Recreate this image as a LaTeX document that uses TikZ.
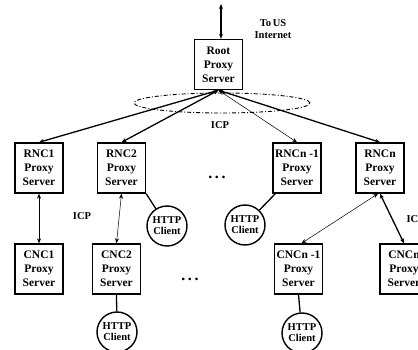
\documentclass[tikz,border=0pt]{standalone}
\usepackage{fontspec}
\setmainfont{Liberation Serif}
\usepackage{tikz}
\usetikzlibrary{arrows.meta}
\usetikzlibrary{decorations.markings}

\tikzset{
  proxybox/.style={draw, line width=1.4pt, minimum width=48pt, minimum height=50pt,
    inner sep=2pt, align=center, font=\fontsize{11.5}{14}\selectfont\bfseries},
  client/.style={draw, circle, line width=1.4pt, minimum size=40pt, inner sep=0pt,
    align=center, font=\fontsize{10.5}{11}\selectfont\bfseries},
  lbl/.style={font=\fontsize{10.5}{12}\selectfont\bfseries, align=center},
  thickarr/.style={line width=1.3pt, {Stealth[length=5pt,width=4pt]}-{Stealth[length=5pt,width=4pt]}},
  thinarr/.style={line width=0.5pt, {Stealth[length=5pt,width=4pt]}-{Stealth[length=5pt,width=4pt]}},
  link/.style={line width=1.3pt}
}

\begin{document}
\begin{tikzpicture}[x=1pt,y=-1pt]
\clip (0,0) rectangle (418,350);
%%% Draws root level
\node[proxybox] (root) at (218.5,64.5) {Root\\Proxy\\Server};
\coordinate (net) at (221,4);
\node[lbl] (tous) at (273,29) {To\,US\\Internet};
\draw[thickarr] (net) -- (root.north -| net);
% ICP ring round the root
\draw[line width=0.9pt, dash pattern=on 4pt off 2pt on 1pt off 2pt,
  postaction={decorate},
  decoration={markings, mark=at position 0.25 with {\arrow{Stealth[length=4pt,width=3pt,reversed]}}}]
  (222,103) ellipse (88pt and 10pt);
\node[lbl] (icp0) at (220,125) {ICP};
%%% Draws RNC level
\node[proxybox] (rnc1) at (39,168) {RNC1\\Proxy\\Server};
\node[proxybox] (rnc2) at (121.5,168) {RNC2\\Proxy\\Server};
\node[proxybox] (rncm) at (297,168) {RNCn -1\\Proxy\\Server};
\node[proxybox] (rncn) at (380,168) {RNCn\\Proxy\\Server};
\node[lbl] (dots1) at (217,177) {\fontsize{16}{16}\selectfont .\,.\,.};
% draws root edges
\draw[thickarr] (root.south) -- (rnc1.north);
\draw[thickarr] (root.south) -- (rnc2.north);
\draw[thinarr] (root.south) -- (rncm.north);
\draw[thickarr] (root.south) -- (rncn.north);
% clients of RNC level
\node[client] (cl2) at (167,226) {HTTP\\Client};
\node[client] (clm) at (245,225) {HTTP\\Client};
\draw[link] (rnc2.south east) -- (cl2);
\draw[link] ([xshift=3pt]rncm.south west) -- (clm);
%%% Draws CNC level
\node[proxybox] (cnc1) at (39,269) {CNC1\\Proxy\\Server};
\node[proxybox] (cnc2) at (116.5,269) {CNC2\\Proxy\\Server};
\node[proxybox] (cncm) at (298.5,269) {CNCn -1\\Proxy\\Server};
\node[proxybox] (cncn) at (404,269) {CNCn\\Proxy\\Server};
\node[lbl] (dots2) at (190,279) {\fontsize{16}{16}\selectfont .\,.\,.};
% draws RNC to CNC edges
\draw[thinarr] (rnc1.south) -- (cnc1.north);
\draw[thinarr] (rnc2.south) -- (cnc2.north);
\draw[thinarr] ([xshift=-2pt]rncn.south) -- ([xshift=3pt]cncm.north);
\draw[thickarr] (rncn.south) -- (cncn.north);
\node[lbl] (icp1) at (82,216) {ICP};
\node[lbl, anchor=west] (icp2) at (403,219) {ICP};
% clients of CNC level
\node[client] (cl3) at (117,332) {HTTP\\Client};
\node[client] (cl4) at (302,333) {HTTP\\Client};
\draw[link] (cnc2.south) -- (cl3);
\draw[link] (cncm.south) -- (cl4);
\end{tikzpicture}
\end{document}
